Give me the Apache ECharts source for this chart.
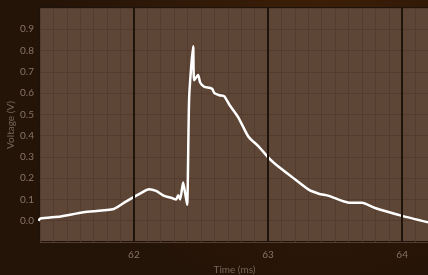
<!DOCTYPE html>
<html>
<head>
<meta charset="utf-8">
<script src="https://cdn.jsdelivr.net/npm/echarts@6/dist/echarts.min.js"></script>
<style>
  html, body { margin: 0; padding: 0; background: #2a1608; }
  #chart { width: 428px; height: 275px; }
</style>
</head>
<body>
<div id="chart"></div>
<script>
// trace
const timeMs = [61.288, 61.303, 61.453, 61.625, 61.85, 61.94, 62.052, 62.112, 62.165, 62.225,
  62.277, 62.315, 62.33, 62.345, 62.367, 62.382, 62.397, 62.412, 62.442, 62.449,
  62.479, 62.494, 62.524, 62.562, 62.584, 62.60, 62.637, 62.674, 62.712, 62.779,
  62.854, 62.929, 63.004, 63.079, 63.176, 63.303, 63.378, 63.453, 63.603, 63.70,
  63.798, 64.0, 64.21];
const voltage = [0.0, 0.01, 0.02, 0.04, 0.055, 0.09, 0.13, 0.148, 0.14, 0.117,
  0.108, 0.10, 0.12, 0.10, 0.18, 0.13, 0.075, 0.58, 0.82, 0.66,
  0.685, 0.65, 0.63, 0.625, 0.62, 0.60, 0.59, 0.585, 0.545, 0.485,
  0.395, 0.35, 0.296, 0.254, 0.207, 0.146, 0.127, 0.117, 0.085, 0.085,
  0.06, 0.023, -0.01];
const majorTicks = [62, 63, 64];

const labelColor = '#857467';
const font = 'Lato';

let chart = echarts.init(document.getElementById('chart'));
const option = {
    animation: false,
    backgroundColor: new echarts.graphic.RadialGradient(0.75, 0.1, 1.0, [
        { offset: 0, color: '#3c1f07' },
        { offset: 0.6, color: '#2e1808' },
        { offset: 1, color: '#241307' }
    ]),
    grid: {
        left: 40, top: 8, right: -1, bottom: 33,
        outerBoundsMode: 'none',
        containLabel: false,
        show: true,
        backgroundColor: '#5e4637',
        borderColor: '#1e130b',
        borderWidth: 2
    },
    xAxis: {
        type: 'value',
        min: 61.3,
        max: 64.2,
        interval: 0.1,
        name: 'Time (ms)',
        nameLocation: 'middle',
        nameGap: 23,
        nameMoveOverlap: false,
        nameTextStyle: { color: '#76665a', fontSize: 10, fontFamily: font },
        axisLine: { show: false },
        axisTick: { show: false },
        axisLabel: {
            color: labelColor, fontSize: 10, fontFamily: font, margin: 8,
            formatter: function (v) {
                return Math.abs(v - Math.round(v)) < 1e-6 ? String(Math.round(v)) : '';
            }
        },
        splitLine: { show: true, lineStyle: { color: '#533c2f', width: 1 } }
    },
    yAxis: {
        type: 'value',
        min: -0.1,
        max: 1.0,
        interval: 0.1,
        name: 'Voltage (V)',
        nameLocation: 'middle',
        nameGap: 24,
        nameMoveOverlap: false,
        nameTextStyle: { color: '#76665a', fontSize: 10, fontFamily: font },
        axisLine: { show: false },
        axisTick: { show: false },
        axisLabel: {
            color: labelColor, fontSize: 10, fontFamily: font, margin: 6,
            formatter: function (v) {
                return (v < -0.05 || v > 0.95) ? '' : v.toFixed(1);
            }
        },
        splitLine: { show: true, lineStyle: { color: '#533c2f', width: 1 } }
    },
    series: [
        {
            type: 'line',
            data: timeMs.map((t, i) => [t, voltage[i]]),
            showSymbol: false,
            smooth: 0.2,
            lineStyle: { color: '#ffffff', width: 2.5 },
            markLine: {
                silent: true,
                symbol: 'none',
                label: { show: false },
                lineStyle: { color: '#1e140c', width: 2, type: 'solid' },
                data: majorTicks.map(x => ({ xAxis: x }))
            },
            z: 3
        }
    ]
};
chart.setOption(option);
</script>
</body>
</html>
